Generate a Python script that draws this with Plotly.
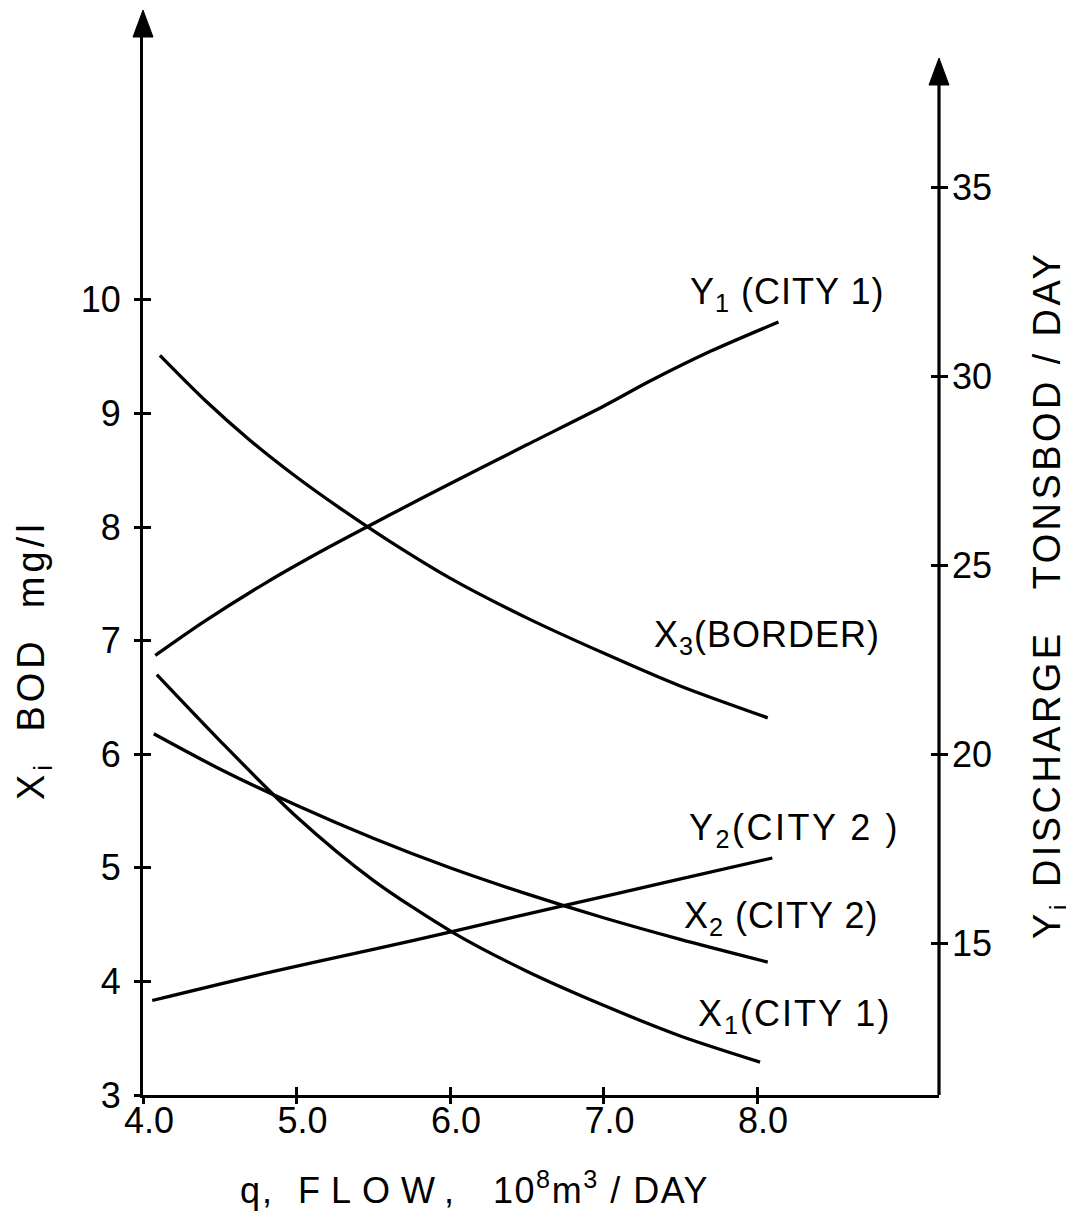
import plotly.graph_objects as go

# ---------------- data ----------------
q_x3 = [4.11, 4.40, 4.70, 5.00, 5.30, 5.60, 6.00, 6.50, 7.00, 7.50, 8.07]
x3_border = [9.51, 9.12, 8.76, 8.44, 8.15, 7.88, 7.55, 7.20, 6.89, 6.60, 6.32]

q_y1 = [4.08, 4.40, 4.80, 5.20, 5.60, 6.00, 6.50, 7.00, 7.30, 7.70, 8.14]
y1_city1 = [22.63, 23.53, 24.55, 25.47, 26.33, 27.17, 28.20, 29.22, 29.88, 30.68, 31.45]

q_x1 = [4.09, 4.50, 5.00, 5.50, 6.02, 6.50, 7.00, 7.50, 8.02]
x1_city1 = [6.70, 6.12, 5.45, 4.89, 4.43, 4.09, 3.79, 3.52, 3.29]

q_x2 = [4.07, 4.50, 5.00, 5.50, 6.00, 6.50, 7.00, 7.50, 8.07]
x2_city2 = [6.18, 5.87, 5.55, 5.26, 5.00, 4.77, 4.56, 4.37, 4.17]

q_y2 = [4.06, 4.85, 5.50, 6.02, 6.72, 7.41, 8.10]
y2_city2 = [13.50, 14.27, 14.85, 15.33, 15.99, 16.63, 17.27]

x_ticks = [4, 5, 6, 7, 8]
x_ticktext = ["4.0", "5.0", "6.0", "7.0", "8.0"]
left_ticks = [3, 4, 5, 6, 7, 8, 9, 10]
right_ticks = [15, 20, 25, 30, 35]

# ---------------- geometry (reference pixel coordinates) ----------------
OFF = 8                      # page body margin of the html page
W, H = 1074 - OFF, 1220 - OFF
L, R, T, B = 143, 939, 37, 1095
X_PX = 153.5      # px per flow unit
YL_PX = 113.6     # px per mg/l
YR_PX = 37.8      # px per ton/day

x_range = [4, 4 + (R - L) / X_PX]
yl_range = [3, 3 + (B - T) / YL_PX]
yr_range = [11, 11 + (B - T) / YR_PX]


def px(p):
    return (p - L) / (R - L)


def py(p):
    return (B - p) / (B - T)


FONT = "Liberation Sans, Arial, Helvetica, sans-serif"
BLACK = "#000000"


def ls(text, sp):
    return f'<span style="letter-spacing:{sp}px">{text}</span>'


fig = go.Figure()

line_style = dict(color=BLACK, width=3.3, shape="spline", smoothing=0.8)
for xs, ys, ax in [(q_x3, x3_border, "y"), (q_x1, x1_city1, "y"),
                   (q_x2, x2_city2, "y"), (q_y1, y1_city1, "y2"),
                   (q_y2, y2_city2, "y2")]:
    fig.add_trace(go.Scatter(x=xs, y=ys, mode="lines", line=line_style,
                             yaxis=ax, showlegend=False, hoverinfo="skip"))
# helper (empty) traces so the outside-tick axes get drawn
fig.add_trace(go.Scatter(x=[], y=[], xaxis="x2", yaxis="y", showlegend=False))
fig.add_trace(go.Scatter(x=[], y=[], xaxis="x", yaxis="y3", showlegend=False))
fig.add_trace(go.Scatter(x=[], y=[], xaxis="x", yaxis="y4", showlegend=False))

tick_common = dict(showgrid=False, zeroline=False, tickcolor=BLACK, tickwidth=2.5,
                   ticklen=8)
TICK_FONT = dict(size=36, family=FONT, color=BLACK)

fig.update_layout(
    width=W, height=H,
    margin=dict(l=L - OFF, r=W - (R - OFF), t=T - OFF, b=H - (B - OFF), pad=0),
    paper_bgcolor="white", plot_bgcolor="white",
    font=dict(family=FONT, color=BLACK),
    xaxis=dict(range=x_range, tickvals=x_ticks, ticktext=x_ticktext,
               ticks="inside", showline=True, linecolor=BLACK, linewidth=3.2,
               tickfont=TICK_FONT, ticklabelshift=6, ticklabelstandoff=-8,
               **tick_common),
    xaxis2=dict(range=x_range, tickvals=x_ticks, overlaying="x", anchor="y",
                side="bottom", ticks="outside", showticklabels=False,
                showline=False, **tick_common),
    yaxis=dict(range=yl_range, tickvals=left_ticks, ticks="inside",
               showline=True, linecolor=BLACK, linewidth=3.2,
               tickfont=TICK_FONT, ticklabelstandoff=12, **tick_common),
    yaxis3=dict(range=yl_range, tickvals=left_ticks, overlaying="y", anchor="x",
                side="left", ticks="outside", showticklabels=False,
                showline=False, **tick_common),
    yaxis2=dict(range=yr_range, tickvals=right_ticks, overlaying="y", anchor="x",
                side="right", ticks="inside", showline=False,
                tickfont=TICK_FONT, ticklabelstandoff=12, **tick_common),
    yaxis4=dict(range=yr_range, tickvals=right_ticks, overlaying="y", anchor="x",
                side="right", ticks="outside", showticklabels=False,
                showline=False, **tick_common),
)

shapes = [
    # left arrow head
    dict(type="path", xref="paper", yref="paper",
         path=f"M {px(L-10)} {py(T)} L {px(L)} {py(10)} L {px(L+10)} {py(T)} Z",
         fillcolor=BLACK, line=dict(color=BLACK, width=1)),
    # right axis line
    dict(type="line", xref="paper", yref="paper", x0=1, x1=1, y0=0, y1=py(84),
         line=dict(color=BLACK, width=3.2)),
    # right arrow head
    dict(type="path", xref="paper", yref="paper",
         path=f"M {px(R-10)} {py(85)} L {px(R)} {py(58)} L {px(R+10)} {py(85)} Z",
         fillcolor=BLACK, line=dict(color=BLACK, width=1)),
]
fig.update_layout(shapes=shapes)

lab_font = dict(family=FONT, size=36, color=BLACK)
labels = [
    (ls("Y<sub>1</sub> (CITY 1)", 1), 688, 294),
    (ls("X<sub>3</sub>(BORDER)", 1), 652, 637),
    (ls("Y<sub>2</sub>(CITY 2 )", 2.5), 687, 830),
    (ls("X<sub>2</sub> (CITY 2)", 1), 682, 918),
    (ls("X<sub>1</sub>(CITY 1)", 2), 696, 1016),
]
ann = []
for text, xl, yc in labels:
    ann.append(dict(text=text, xref="paper", yref="paper", x=px(xl), y=py(yc),
                    xanchor="left", yanchor="middle", showarrow=False, font=lab_font))

title_font = dict(family=FONT, size=38, color=BLACK)
ann.append(dict(text=ls("X<sub>i</sub>  BOD  mg/l", 4), xref="paper", yref="paper",
                x=px(34), y=py(660), textangle=-90, xanchor="center",
                yanchor="middle", showarrow=False, font=title_font))
ann.append(dict(text=ls("Y<sub>i</sub> DISCHARGE   TONSBOD / DAY", 3.4),
                xref="paper", yref="paper",
                x=px(1050), y=py(595), textangle=-90, xanchor="center",
                yanchor="middle", showarrow=False, font=title_font))
ann.append(dict(text=ls("q,  ", 2) + ls("FLOW,", 11) + ls("  ", 4) +
                ls("10<sup>8</sup>m<sup>3</sup> / DAY", 1.5),
                xref="paper", yref="paper",
                x=px(238), y=py(1188), xanchor="left", yanchor="middle",
                showarrow=False, font=dict(family=FONT, size=36, color=BLACK)))
fig.update_layout(annotations=ann)

fig.write_html("out.html")
